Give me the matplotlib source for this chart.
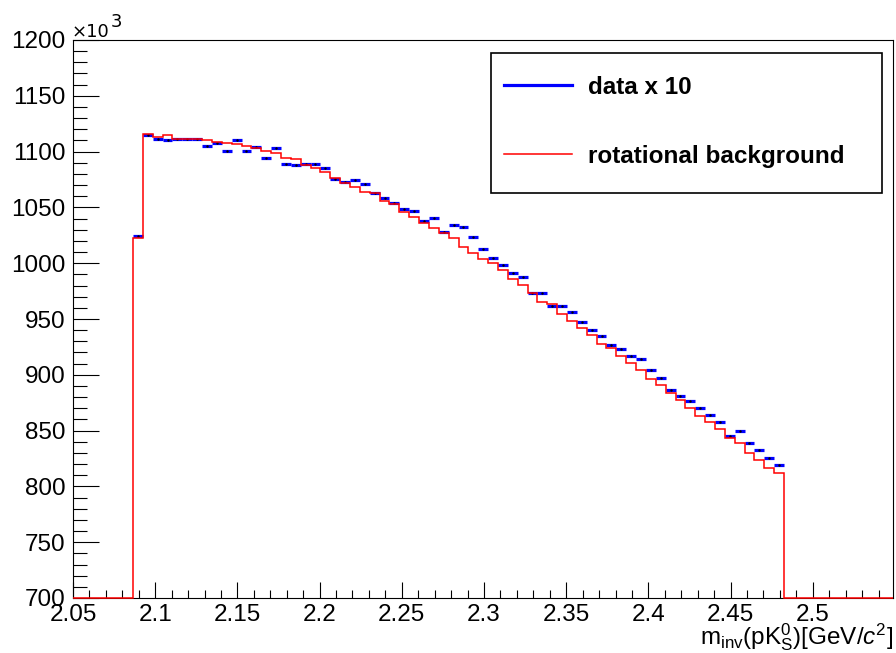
import matplotlib.pyplot as plt
import matplotlib as mpl
import numpy as np
from matplotlib.lines import Line2D
from matplotlib.patches import Rectangle

# histogram binning (GeV/c^2)
x_first = 2.0865
bin_w = 0.006
n_bins = 66

# rotational background, units of 10^3
bkg = [1023.0, 1115.8, 1113.3, 1114.7, 1111.7, 1111.7, 1111.7, 1110.4, 1109.0, 1108.0,
       1106.6, 1105.1, 1102.9, 1100.2, 1098.9, 1094.7, 1093.8, 1088.2, 1085.0, 1082.0,
       1076.0, 1072.2, 1068.6, 1064.1, 1062.6, 1055.7, 1053.0, 1046.2, 1041.1, 1035.7,
       1031.2, 1027.4, 1022.5, 1014.2, 1009.4, 1003.5, 1000.2, 993.9, 985.8, 980.5,
       973.0, 965.5, 963.4, 954.4, 948.5, 942.3, 935.7, 927.8, 923.7, 917.1,
       910.9, 904.3, 896.2, 890.6, 883.4, 877.7, 870.0, 863.4, 857.4, 851.4,
       843.1, 838.6, 829.6, 823.7, 816.8, 811.7]

# data x 10, units of 10^3
data = [1024.0, 1115.3, 1111.3, 1110.1, 1111.7, 1111.1, 1111.1, 1105.0, 1107.7, 1100.9,
        1110.2, 1100.9, 1103.8, 1094.4, 1103.5, 1089.3, 1087.8, 1088.9, 1088.9, 1085.3,
        1075.4, 1072.5, 1074.6, 1070.7, 1063.2, 1058.7, 1053.6, 1048.3, 1046.8, 1037.5,
        1040.5, 1028.3, 1033.8, 1032.8, 1023.5, 1012.7, 1005.0, 998.4, 991.5, 987.9,
        973.3, 973.3, 961.6, 961.6, 956.0, 947.0, 940.4, 935.1, 927.0, 923.1,
        916.5, 913.9, 904.5, 896.8, 886.4, 881.2, 876.9, 870.5, 864.0, 857.4,
        845.2, 849.6, 839.2, 832.3, 825.7, 819.2]

x_lim = (2.05, 2.5488)
y_lim = (700, 1200)
x_major = [2.05, 2.1, 2.15, 2.2, 2.25, 2.3, 2.35, 2.4, 2.45, 2.5]
y_major = [700, 750, 800, 850, 900, 950, 1000, 1050, 1100, 1150, 1200]

plt.rcParams['font.family'] = ['Liberation Sans', 'DejaVu Sans']
plt.rcParams['mathtext.fontset'] = 'custom'
plt.rcParams['mathtext.rm'] = 'Liberation Sans'
plt.rcParams['mathtext.it'] = 'Liberation Sans:italic'

fs = 17.5

edges = x_first + bin_w * np.arange(n_bins + 1)
centers = 0.5 * (edges[:-1] + edges[1:])

fig = plt.figure(figsize=(8.96, 6.53), dpi=100)
ax = fig.add_axes([73/896, 55/653, 820/896, 558/653])

# data points as horizontal bars
ax.errorbar(centers, data, xerr=bin_w/2, fmt='none', ecolor='#0000ff',
            elinewidth=2.3, zorder=3)
ax.plot(centers, data, '.', color='black', ms=1.5, zorder=4)

# background histogram, empty bins sit on the frame floor
full_edges = np.r_[x_lim[0], edges, x_lim[1]]
full_vals = np.maximum(np.r_[0, bkg, 0], y_lim[0])
ax.stairs(full_vals, full_edges, baseline=None, color='#ff0000', lw=1.1,
          zorder=5, clip_on=False)

ax.set_xlim(*x_lim)
ax.set_ylim(*y_lim)
ax.set_xticks(x_major)
ax.set_xticklabels(['%g' % v for v in x_major])
ax.set_yticks(y_major)
ax.xaxis.set_minor_locator(mpl.ticker.MultipleLocator(0.01))
ax.yaxis.set_minor_locator(mpl.ticker.MultipleLocator(10))
ax.tick_params(axis='both', which='both', direction='in', width=0.8,
               top=False, right=False, labelsize=fs)
ax.tick_params(axis='y', which='major', length=18.5, pad=5.5)
ax.tick_params(axis='y', which='minor', length=10)
ax.tick_params(axis='x', which='major', length=11.5, pad=4)
ax.tick_params(axis='x', which='minor', length=6)
for s in ax.spines.values():
    s.set_linewidth(0.8)

# axis multiplier
fig.text(72/896, (653-36.7)/653, '\u00d710', fontsize=13, ha='left', va='baseline',
         family='DejaVu Sans')
fig.text(111/896, (653-26.7)/653, '3', fontsize=13, ha='left', va='baseline',
         family='DejaVu Sans')

fig.text(893/896, (653-644)/653,
         r'm$_{\mathrm{inv}}$(pK$^{0}_{\mathrm{S}}$)[GeV/$\mathit{c}^{2}$]',
         fontsize=fs, ha='right', va='baseline')

# legend
ax.add_patch(Rectangle((0.5098, 0.7263), 0.4768, 0.2509, transform=ax.transAxes,
                       fill=True, facecolor='white', edgecolor='black', lw=1.2, zorder=6))
handles = [Line2D([], [], color='#0000ff', lw=2.3),
           Line2D([], [], color='#ff0000', lw=1.1)]
leg = ax.legend(handles, ['data x 10', 'rotational background'],
                loc='center left', bbox_to_anchor=(0.5256, 0.8536),
                frameon=False, borderpad=0, borderaxespad=0,
                handlelength=2.8, handletextpad=0.65, labelspacing=1.9,
                prop={'size': fs, 'weight': 'bold'})
leg.set_zorder(7)

fig.savefig('out.png', dpi=100)
